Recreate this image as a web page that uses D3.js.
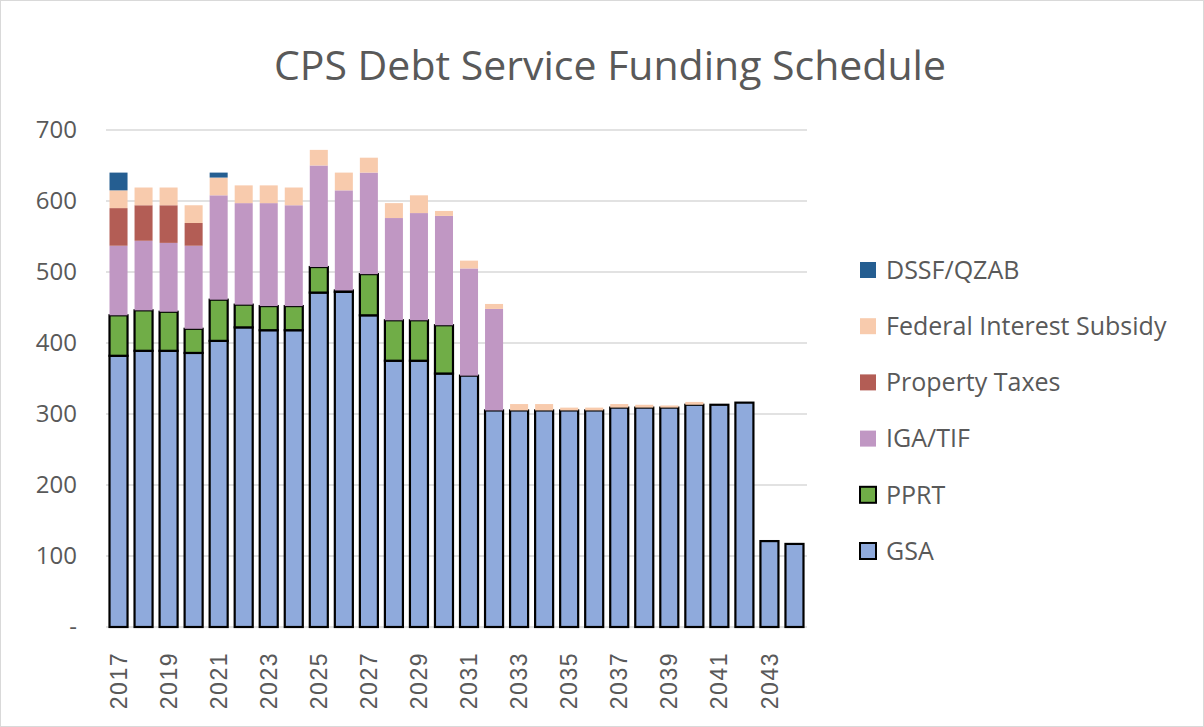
<!DOCTYPE html>
<html lang="en">
<head>
<meta charset="utf-8">
<title>CPS Debt Service Funding Schedule</title>
<style>
  body { margin: 0; background: #fff; }
  svg { display: block; font-family: "Open Sans", "Liberation Sans", sans-serif; }
  .tick text { fill: #595959; }
</style>
</head>
<body>
<svg id="chart" width="1204" height="727"></svg>
<script src="https://d3js.org/d3.v7.min.js"></script>
<script>
// values in $ millions
const years = ["2017","2018","2019","2020","2021","2022","2023","2024","2025","2026","2027","2028","2029","2030",
               "2031","2032","2033","2034","2035","2036","2037","2038","2039","2040","2041","2042","2043","2044"]
const gsa  = [382,389,389,386,403,422,418,418,471,472,439,375,375,357,354,305,305,305,305,305,309,309,309,313,313,316,121,117]
const pprt = [57,57,55,34,58,32,34,34,36,2,58,57,57,68,0,0,0,0,0,0,0,0,0,0,0,0,0,0]
const igaTif = [98,98,97,117,147,143,145,142,143,141,143,144,151,154,151,143,0,0,0,0,0,0,0,0,0,0,0,0]
const propTax = [53,50,53,32,0,0,0,0,0,0,0,0,0,0,0,0,0,0,0,0,0,0,0,0,0,0,0,0]
const fedSubsidy = [25,25,25,25,25,25,25,25,22,25,21,21,25,7,11,7,9,9,4,4,5,4,3,4,0,0,0,0]
const dssf = [25,0,0,0,7,0,0,0,0,0,0,0,0,0,0,0,0,0,0,0,0,0,0,0,0,0,0,0]
const yTicks = [0,100,200,300,400,500,600,700]

const series = [
  {key: "GSA", values: gsa, color: "#8faadc", outline: true},
  {key: "PPRT", values: pprt, color: "#70ad47", outline: true},
  {key: "IGA/TIF", values: igaTif, color: "#c097c3", outline: false},
  {key: "Property Taxes", values: propTax, color: "#b35d55", outline: false},
  {key: "Federal Interest Subsidy", values: fedSubsidy, color: "#f8cbad", outline: false},
  {key: "DSSF/QZAB", values: dssf, color: "#255e91", outline: false}
]

const rows = years.map((y, i) => {
  const r = {year: y}
  series.forEach(s => r[s.key] = s.values[i])
  return r
})

const svg = d3.select("#chart")
const W = 1204, H = 727
const m = {left: 106, right: 397, top: 130, bottom: 100}

svg.append("rect").attr("x", 0.5).attr("y", 0.5).attr("width", W - 1).attr("height", H - 1)
  .attr("fill", "#fff").attr("stroke", "#d9d9d9")

const x = d3.scaleBand().domain(years).range([m.left, W - m.right]).paddingInner(0.28).paddingOuter(0.14)
const y = d3.scaleLinear().domain([0, 700]).range([H - m.bottom, m.top])

// gridlines
svg.append("g").selectAll("line").data(yTicks).join("line")
  .attr("x1", m.left).attr("x2", W - m.right)
  .attr("y1", d => y(d)).attr("y2", d => y(d))
  .attr("stroke", "#d9d9d9").attr("stroke-width", 1.5)

const stack = d3.stack().keys(series.map(s => s.key))(rows)

svg.append("g").selectAll("g").data(stack).join("g")
  .each(function (layer, li) {
    const s = series[li]
    d3.select(this).selectAll("rect").data(layer.filter(d => d[1] - d[0] > 0)).join("rect")
      .attr("x", d => x(d.data.year))
      .attr("width", x.bandwidth())
      .attr("y", d => y(d[1]))
      .attr("height", d => y(d[0]) - y(d[1]))
      .attr("fill", s.color)
      .attr("stroke", s.outline ? "#000" : "none")
      .attr("stroke-width", 2.2)
  })

// y axis
const yAxis = d3.axisLeft(y).tickValues(yTicks).tickSize(0).tickPadding(29)
  .tickFormat(d => d === 0 ? "-" : d)
svg.append("g").attr("transform", `translate(${m.left},0)`).call(yAxis)
  .call(g => g.select(".domain").remove())
  .selectAll("text").style("font-size", "24px").attr("font-family", "Open Sans, sans-serif")

// x axis, every other year
const xAxis = d3.axisBottom(x).tickValues(years.filter((d, i) => i % 2 === 0)).tickSize(0)
svg.append("g").attr("transform", `translate(0,${H - m.bottom})`).call(xAxis)
  .call(g => g.select(".domain").remove())
  .selectAll("text")
  .style("font-size", "23px")
  .style("letter-spacing", "1.5px")
  .attr("text-anchor", "end")
  .attr("dy", "0.35em")
  .attr("transform", "translate(0,25) rotate(-90)")
  .attr("x", 0).attr("y", 0)

// title
svg.append("text").attr("x", 610).attr("y", 80).attr("text-anchor", "middle")
  .style("font-size", "41px").style("fill", "#595959")
  .text("CPS Debt Service Funding Schedule")

// legend
const legend = svg.append("g").attr("transform", "translate(860,270)")
const legItems = series.slice().reverse()
const li = legend.selectAll("g").data(legItems).join("g")
  .attr("transform", (d, i) => `translate(0,${i * 56.2})`)
li.append("rect").attr("x", 0).attr("y", -8).attr("width", 16).attr("height", 16)
  .attr("fill", d => d.color)
  .attr("stroke", d => d.outline ? "#000" : "none").attr("stroke-width", 2)
li.append("text").attr("x", 26).attr("y", 0).attr("dy", "0.35em")
  .style("font-size", "25px").style("fill", "#595959")
  .text(d => d.key)
</script>
</body>
</html>
